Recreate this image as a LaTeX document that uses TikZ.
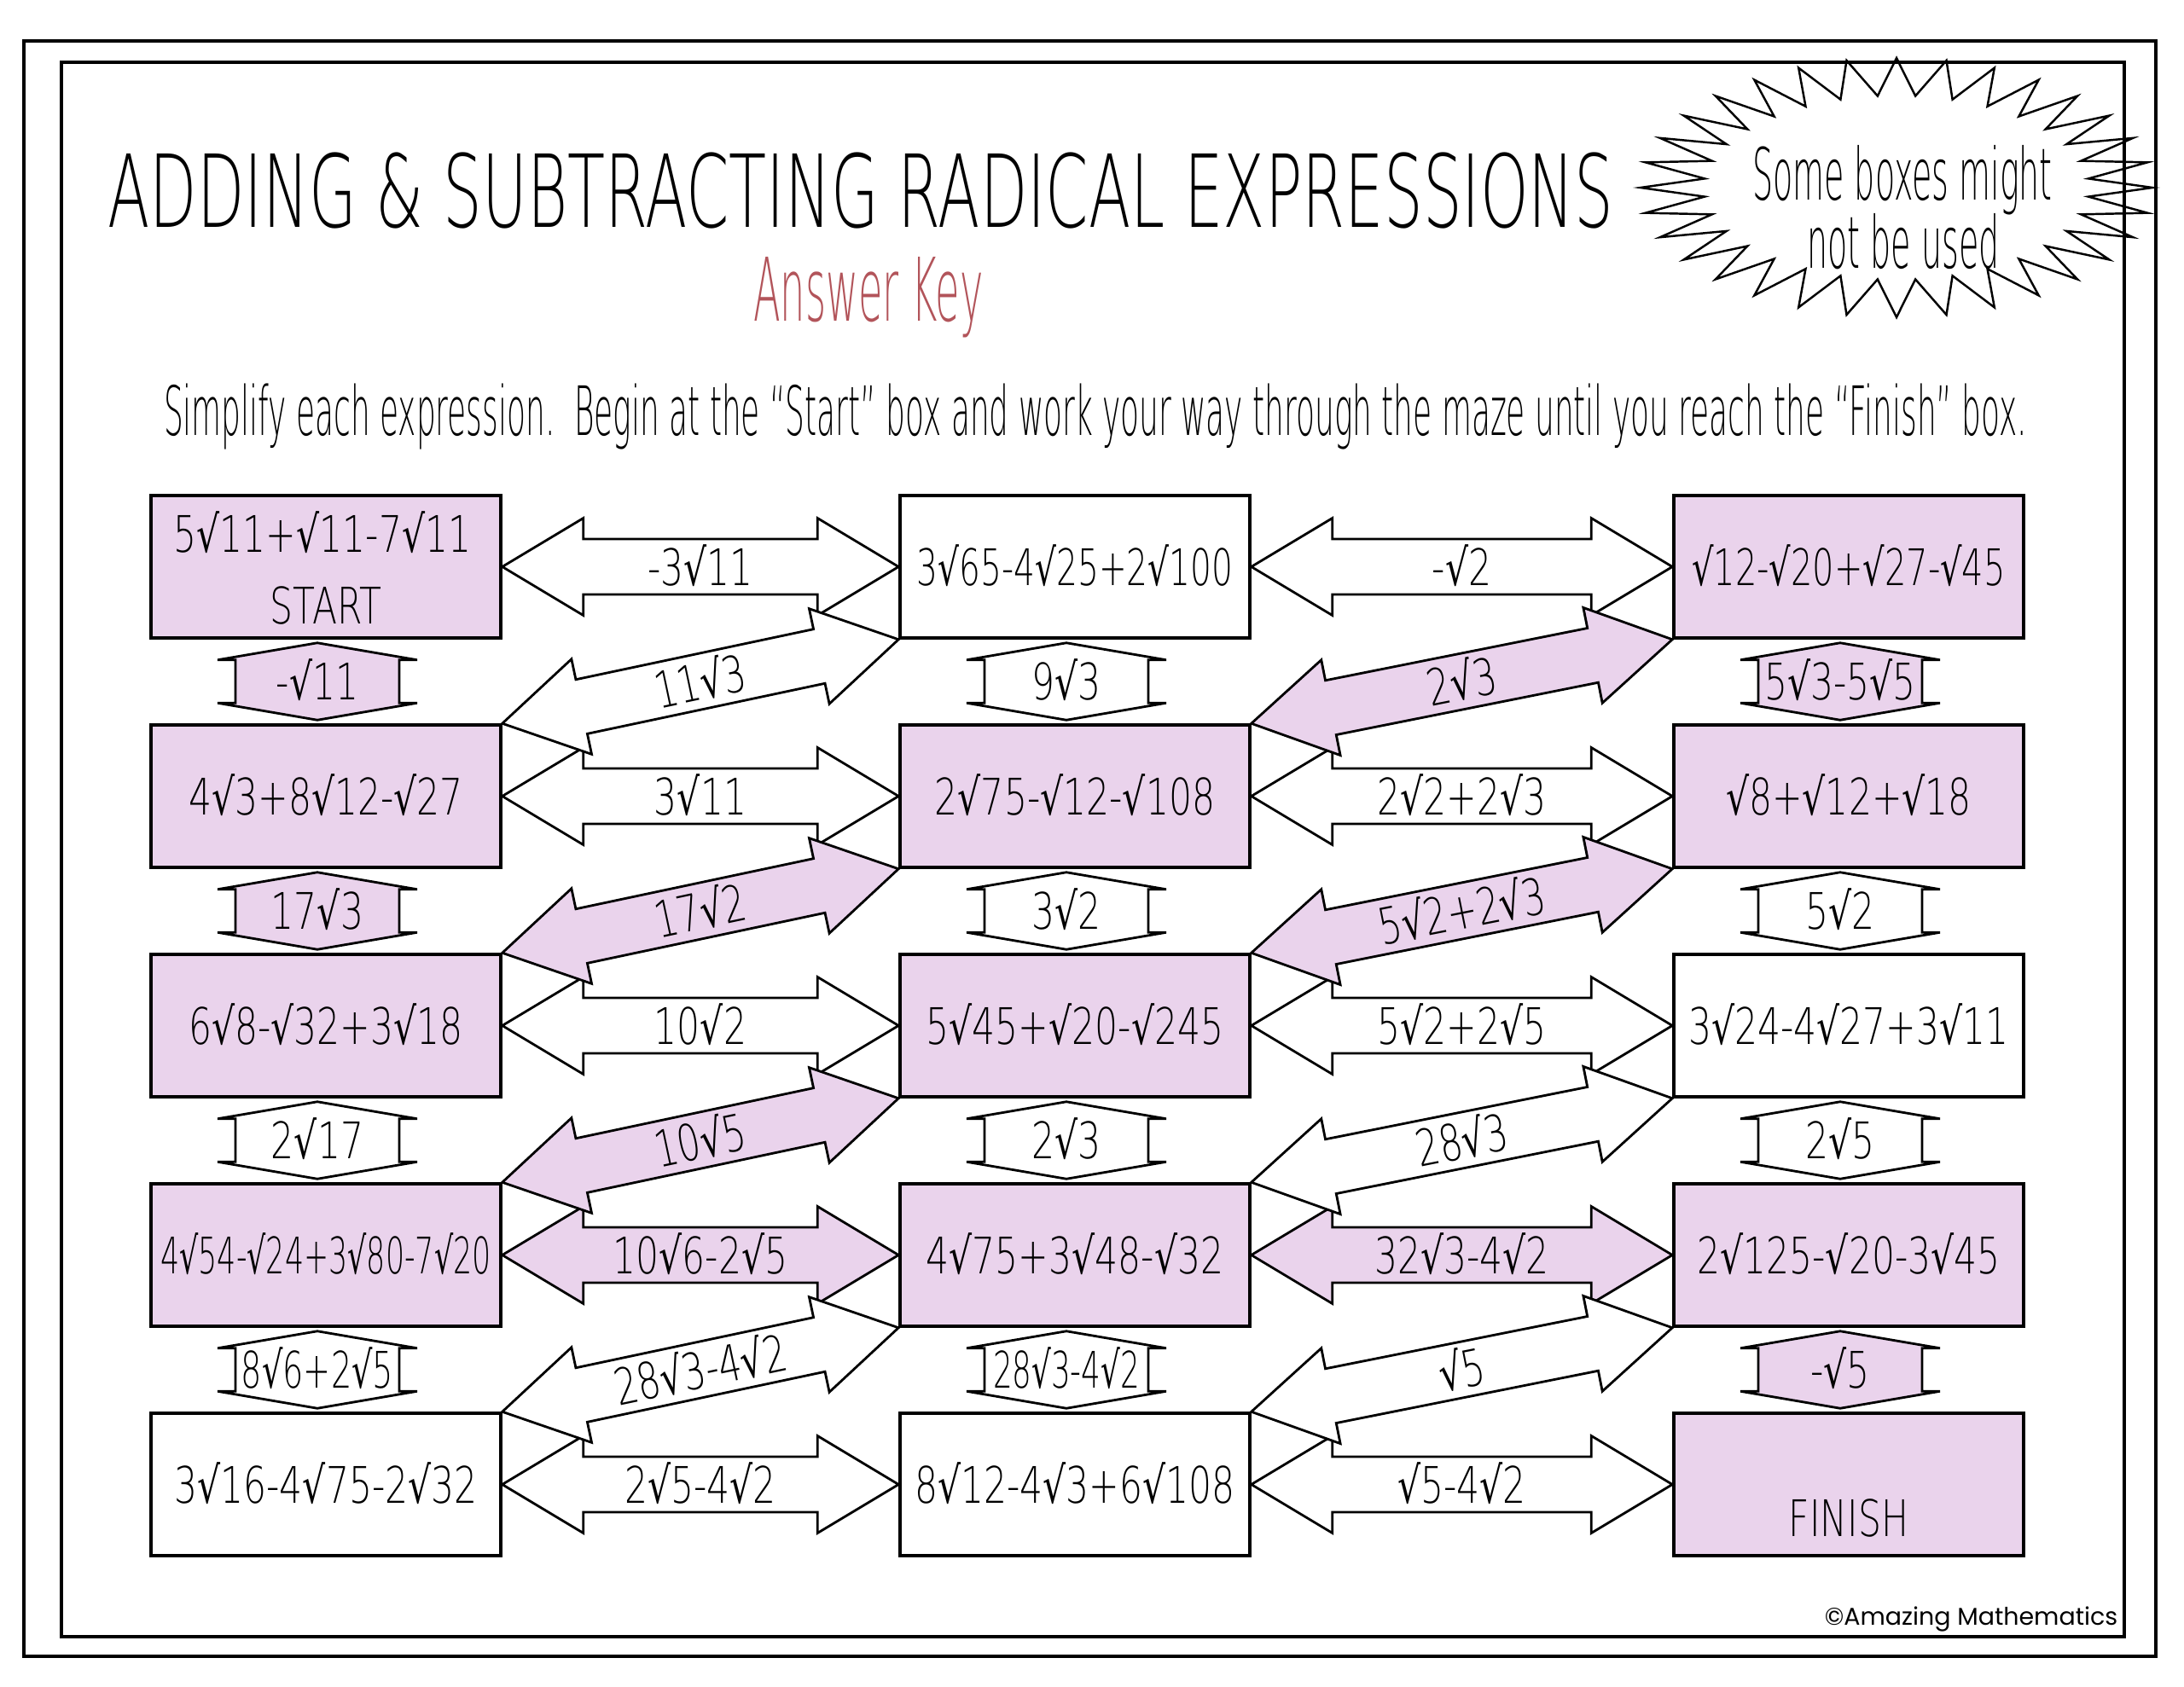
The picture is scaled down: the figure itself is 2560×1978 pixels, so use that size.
\documentclass[tikz,border=0pt]{standalone}
\usepackage{fontspec}
\usepackage{newunicodechar}
\usetikzlibrary{calc}
\setmainfont{DejaVu Sans}
\newfontfamily\bxf[FakeStretch=0.72]{DejaVu Sans ExtraLight}
\newfontfamily\sqf[FakeStretch=0.72]{DejaVu Sans}
\newfontfamily\ttlf[FakeStretch=0.61]{DejaVu Sans ExtraLight}
\newfontfamily\narf[FakeStretch=0.45]{DejaVu Sans ExtraLight}
\newfontfamily\copyf{Poppins}
\newunicodechar{√}{{\sqf\char"221A}}
\definecolor{pk}{RGB}{234,211,236}
\definecolor{keyred}{RGB}{178,84,90}

\newcommand\getvec[2]{%
  \path let \p1=($(#2)-(#1)$) in \pgfextra{%
    \pgfmathsetmacro\tmpang{atan2(\y1,\x1)}%
    \pgfmathsetmacro\tmplen{veclen(\x1,\y1)/0.284528}%
    \global\let\arrang\tmpang\global\let\arrlen\tmplen};}

% double arrow between two named points, label rotated along it
\newcommand\harr[5]{%
  \getvec{#1}{#2}%
  \begin{scope}[shift={(#1)}, rotate=\arrang]
    \draw[arrline, fill=#3] (0,0) -- (95,57) -- (95,32.5) -- ({\arrlen-95},32.5)
      -- ({\arrlen-95},57) -- (\arrlen,0) -- ({\arrlen-95},-57) -- ({\arrlen-95},-32.5)
      -- (95,-32.5) -- (95,-57) -- cycle;
  \end{scope}
  \node[lbl, rotate=\arrang] (#4) at ($(#1)!0.5!(#2)$) {#5};}

% vertical connector with flat heads
\newcommand\varr[5]{%
  \getvec{#1}{#2}%
  \begin{scope}[shift={(#1)}, rotate=\arrang]
    \draw[arrline, fill=#3] (0,0) -- (20,117) -- (20,96) -- ({\arrlen-20},96)
      -- ({\arrlen-20},117) -- (\arrlen,0) -- ({\arrlen-20},-117) -- ({\arrlen-20},-96)
      -- (20,-96) -- (20,-117) -- cycle;
  \end{scope}
  \node[lbl] (#4) at ($(#1)!0.5!(#2)$) {#5};}

\begin{document}
\begin{tikzpicture}[x=0.1mm, y=-0.1mm,
  box/.style={draw, line width=1pt, minimum width=410*0.284528pt, minimum height=167*0.284528pt,
    inner sep=0pt, text height=12.25pt, text depth=0pt, font=\bxf\fontsize{16.8pt}{20pt}\selectfont},
  lbl/.style={inner sep=0pt, text height=12.25pt, text depth=0pt, font=\bxf\fontsize{16.8pt}{20pt}\selectfont},
  arrline/.style={draw=black, line width=0.8pt, line join=miter}]
\useasboundingbox (0,0) rectangle (2560,1978);

% frames
\draw[line width=1.4pt] (28,48) rectangle (2527,1942);
\draw[line width=1.4pt] (72,73) rectangle (2490,1919);

% title block
\node[inner sep=0pt, anchor=base, font=\ttlf\fontsize{33.6pt}{40pt}\selectfont] (title) at (1009,266)
  {ADDING \& SUBTRACTING RADICAL EXPRESSIONS};
\node[inner sep=0pt, anchor=base, text=keyred, font=\narf\fontsize{29.3pt}{34pt}\selectfont] (key) at (1018,376)
  {Answer Key};
\node[inner sep=0pt, anchor=base, font=\narf\fontsize{22.7pt}{27pt}\selectfont] (instr) at (1284,510)
  {Simplify each expression.\ \ Begin at the “Start” box and work your way through the maze until you reach the “Finish” box.};

% starburst
\draw[line width=0.7pt, line join=miter] plot[samples at={0,...,63}, variable=\i]
  ({2223+ifthenelse(mod(\i,2)==0,300,226)*cos(\i*5.625)}, {220+ifthenelse(mod(\i,2)==0,152,108)*sin(\i*5.625)}) -- cycle;
\node[inner sep=0pt, anchor=base, font=\narf\fontsize{24pt}{28pt}\selectfont] (burst1) at (2230,234) {Some boxes might};
\node[inner sep=0pt, anchor=base, font=\narf\fontsize{24pt}{28pt}\selectfont] (burst2) at (2231,314) {not be used};

% copyright
\node[inner sep=0pt, anchor=base east, font=\copyf\fontsize{8.1pt}{10pt}\selectfont] (copy) at (2483,1905)
  {©Amazing Mathematics};

% boxes
\node[box, fill=pk] (b11) at (382,664.5) {};
\node[lbl] (t11a) at (378,626) {5√11+√11-7√11};
\node[lbl] (t11b) at (382,710) {START};
\node[box] (b12) at (1260,664.5) {\scalebox{0.92}[1]{3√65-4√25+2√100}};
\node[box, fill=pk] (b13) at (2167,664.5) {\scalebox{0.94}[1]{√12-√20+√27-√45}};

\node[box, fill=pk] (b21) at (382,933.5) {4√3+8√12-√27};
\node[box, fill=pk] (b22) at (1260,933.5) {2√75-√12-√108};
\node[box, fill=pk] (b23) at (2167,933.5) {√8+√12+√18};

\node[box, fill=pk] (b31) at (382,1202.5) {6√8-√32+3√18};
\node[box, fill=pk] (b32) at (1260,1202.5) {5√45+√20-√245};
\node[box] (b33) at (2167,1202.5) {3√24-4√27+3√11};

\node[box, fill=pk] (b41) at (382,1471.5) {\scalebox{0.82}[1]{4√54-√24+3√80-7√20}};
\node[box, fill=pk] (b42) at (1260,1471.5) {4√75+3√48-√32};
\node[box, fill=pk] (b43) at (2167,1471.5) {2√125-√20-3√45};

\node[box] (b51) at (382,1740.5) {3√16-4√75-2√32};
\node[box] (b52) at (1260,1740.5) {8√12-4√3+6√108};
\node[box, fill=pk] (b53) at (2167,1740.5) {};
\node[lbl] (t53) at (2167,1780) {FINISH};

% horizontal arrows
\harr{b11.east}{b12.west}{white}{h11}{-3√11}
\harr{b12.east}{b13.west}{white}{h12}{-√2}
\harr{b21.east}{b22.west}{white}{h21}{3√11}
\harr{b22.east}{b23.west}{white}{h22}{2√2+2√3}
\harr{b31.east}{b32.west}{white}{h31}{10√2}
\harr{b32.east}{b33.west}{white}{h32}{5√2+2√5}
\harr{b41.east}{b42.west}{pk}{h41}{10√6-2√5}
\harr{b42.east}{b43.west}{pk}{h42}{32√3-4√2}
\harr{b51.east}{b52.west}{white}{h51}{2√5-4√2}
\harr{b52.east}{b53.west}{white}{h52}{√5-4√2}

% diagonal arrows
\harr{b21.north east}{b12.south west}{white}{d11}{11√3}
\harr{b22.north east}{b13.south west}{pk}{d12}{2√3}
\harr{b31.north east}{b22.south west}{pk}{d21}{17√2}
\harr{b32.north east}{b23.south west}{pk}{d22}{5√2+2√3}
\harr{b41.north east}{b32.south west}{pk}{d31}{10√5}
\harr{b42.north east}{b33.south west}{white}{d32}{28√3}
\harr{b51.north east}{b42.south west}{white}{d41}{28√3-4√2}
\harr{b52.north east}{b43.south west}{white}{d42}{√5}

% vertical connector end points
\foreach \c in {1,2,3}{
  \foreach \r/\n in {1/2,2/3,3/4,4/5}{
    \coordinate (vt\r\c) at ($(b\r\c.south)+(-10,4)$);
    \coordinate (vb\r\c) at ($(b\n\c.north)+(-10,-4)$);
  }}

% vertical connectors
\varr{vt11}{vb11}{pk}{v11}{-√11}
\varr{vt21}{vb21}{pk}{v21}{17√3}
\varr{vt31}{vb31}{white}{v31}{2√17}
\varr{vt41}{vb41}{white}{v41}{\scalebox{0.9}[1]{8√6+2√5}}
\varr{vt12}{vb12}{white}{v12}{9√3}
\varr{vt22}{vb22}{white}{v22}{3√2}
\varr{vt32}{vb32}{white}{v32}{2√3}
\varr{vt42}{vb42}{white}{v42}{\scalebox{0.84}[1]{28√3-4√2}}
\varr{vt13}{vb13}{pk}{v13}{5√3-5√5}
\varr{vt23}{vb23}{white}{v23}{5√2}
\varr{vt33}{vb33}{white}{v33}{2√5}
\varr{vt43}{vb43}{pk}{v43}{-√5}
\end{tikzpicture}
\end{document}
